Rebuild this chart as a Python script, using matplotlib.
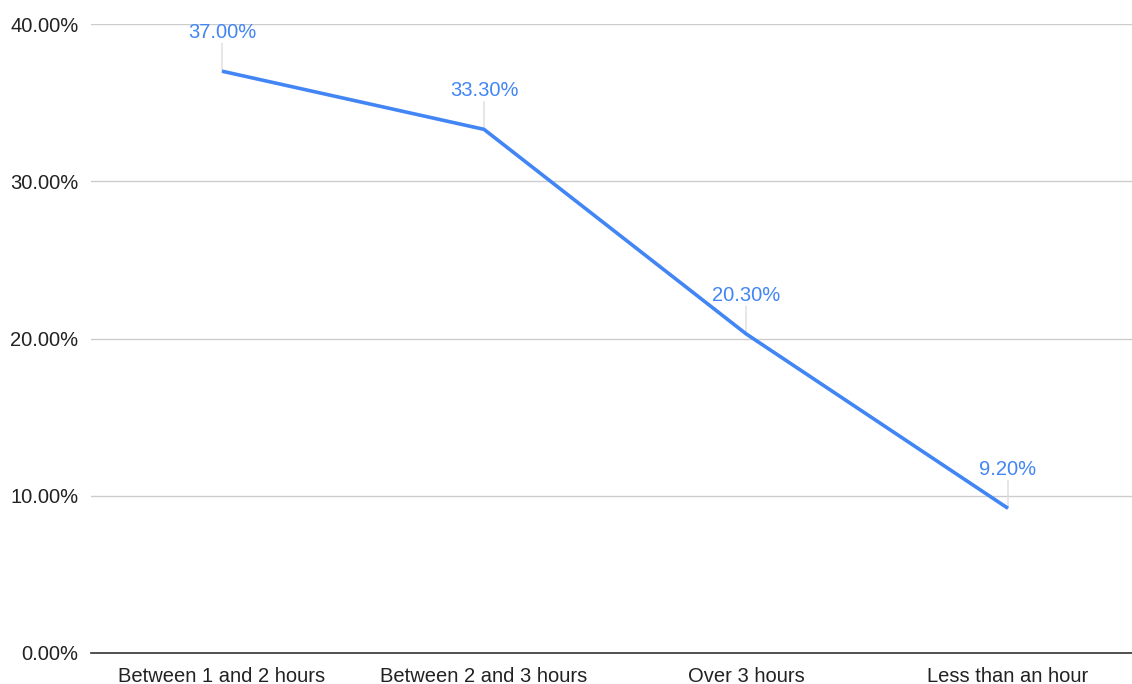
import matplotlib.pyplot as plt
from matplotlib.ticker import FuncFormatter

# data
categories = ['Between 1 and 2 hours', 'Between 2 and 3 hours', 'Over 3 hours', 'Less than an hour']
shares = [37.0, 33.3, 20.3, 9.2]
yticks = [0, 10, 20, 30, 40]

plt.rcParams['font.family'] = ['Liberation Sans', 'DejaVu Sans']
blue = '#4285F4'

fig = plt.figure(figsize=(11.32, 6.84), dpi=100)
ax = fig.add_axes([91/1132, 1 - 653/684, 1048/1132, (653 - 24)/684])

x = list(range(len(categories)))
ax.plot(x, shares, color=blue, linewidth=2.6, solid_capstyle='butt', zorder=3)

# data labels with little leader lines
for xi, v in zip(x, shares):
    ax.annotate('', xy=(xi, v), xytext=(0, 20), textcoords='offset points',
                arrowprops=dict(arrowstyle='-', color='#dddddd', lw=1,
                                shrinkA=0, shrinkB=0), zorder=2)
    ax.annotate(f'{v:.2f}%', xy=(xi, v), xytext=(0, 21), textcoords='offset points',
                ha='center', va='bottom', color=blue, fontsize=14.5)

ax.set_xlim(-0.5, len(categories) - 0.5)
ax.set_ylim(0, 40)
ax.set_yticks(yticks)
ax.yaxis.set_major_formatter(FuncFormatter(lambda v, p: f'{v:.2f}%'))
ax.set_xticks(x)
ax.set_xticklabels(categories)
ax.tick_params(length=0, labelsize=14.5, colors='#222222', pad=10)
ax.tick_params(axis='y', pad=9)
ax.grid(axis='y', color='#cccccc', linewidth=1)
ax.set_axisbelow(True)
for s in ['top', 'right', 'left']:
    ax.spines[s].set_visible(False)
ax.spines['bottom'].set_color('#333333')
ax.spines['bottom'].set_linewidth(1.2)
ax.spines['bottom'].set_zorder(4)

fig.savefig('out.png', dpi=100)
